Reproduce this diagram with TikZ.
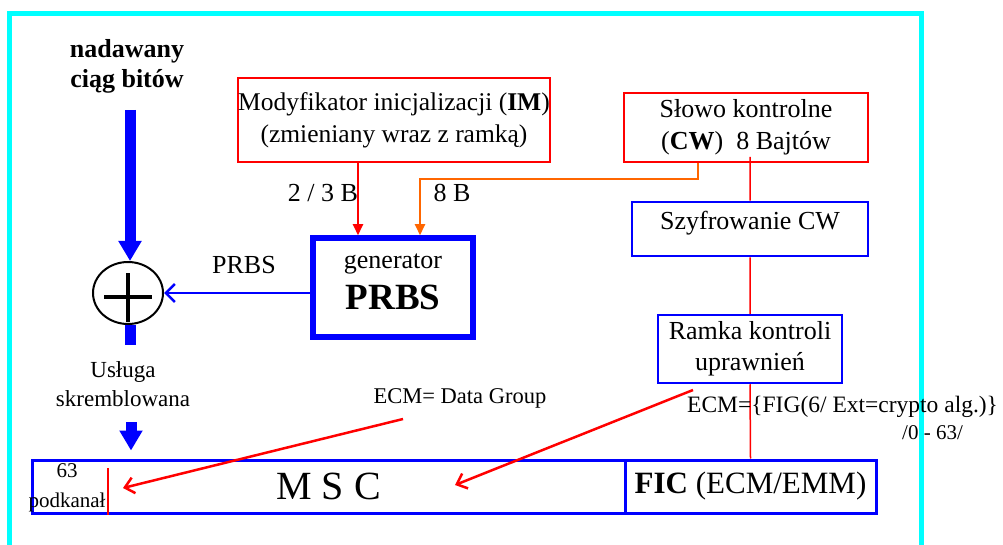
\documentclass[tikz,border=0pt]{standalone}
\usepackage{fontspec}
\setmainfont{Liberation Serif}
\usetikzlibrary{positioning, arrows.meta, shapes.geometric, calc}
\definecolor{cFrame}{HTML}{00FFFF}
\definecolor{cBlue}{HTML}{0000FF}
\definecolor{cRed}{HTML}{FF0000}
\definecolor{cOrng}{HTML}{FF6600}

\tikzset{
  txt/.style={font=\fontsize{26}{31}\selectfont, inner sep=0pt, align=center},
  redbox/.style={txt, draw=cRed, line width=2.5pt},
  bluebox/.style={txt, draw=cBlue, line width=2.5pt},
  fatarrow/.style={draw=cBlue, line width=11pt, -{Triangle[length=20pt,width=22pt]}},
  feedarrow/.style={draw=cRed, line width=2pt, -{Triangle[length=11pt,width=10pt]}},
  ecmarrow/.style={draw=cRed, line width=2.5pt, -{Straight Barb[length=9pt,width=16pt]}},
}

\begin{document}
\begin{tikzpicture}[x=1pt, y=-1pt]
  \useasboundingbox (0,0) rectangle (1003,545);
  \draw[cFrame, line width=5pt] (9.5,13.5) rectangle (921.5,580);

  % scrambler input and xor
  \node[txt, font=\fontsize{26}{30}\selectfont\bfseries] (bits) at (127,66) {nadawany\\ciąg bitów};
  \coordinate (bitsIn) at (130,110);
  \coordinate (bitsOut) at (130,345);
  \node[ellipse, draw=black, line width=2pt, minimum width=70pt, minimum height=62pt, inner sep=0pt] (xor) at (128,293) {};
  \draw[fatarrow] (bitsIn) -- (bitsIn |- xor.north);
  \draw[cBlue, line width=11pt] (bitsOut |- xor.south) -- (bitsOut);
  \draw[line width=4pt] ([xshift=-24pt,yshift=-4pt]xor.center) -- ([xshift=24pt,yshift=-4pt]xor.center);
  \draw[line width=4pt] ([yshift=20pt]xor.center) -- ([yshift=-29pt]xor.center);
  \node[txt, font=\fontsize{23}{29}\selectfont] (usl) at (123,384) {Usługa\\skremblowana};

  % PRBS generator and its inputs
  \node[bluebox, line width=5.5pt, minimum width=160pt, minimum height=99pt, text depth=12pt] (gen) at (393,287.5)
    {generator\\[10pt]{\fontsize{37}{40}\selectfont\bfseries PRBS}};
  \node[redbox, font=\fontsize{25.5}{32}\selectfont, minimum width=310pt, minimum height=84pt] (im) at (394,120)
    {Modyfikator inicjalizacji (\textbf{IM})\\(zmieniany wraz z ramką)};
  \node[redbox, font=\fontsize{26}{32}\selectfont, minimum width=244pt, minimum height=69pt] (cw) at (746,127.5)
    {Słowo kontrolne\\(\textbf{CW})\ \ 8 Bajtów};
  \draw[feedarrow] (358,0 |- im.south) -- (358,0 |- gen.north);
  \draw[feedarrow, draw=cOrng] (698,0 |- cw.south) |- (420,179) -- (420,0 |- gen.north);
  \node[txt] (imLbl) at (323,193) {2 / 3 B};
  \node[txt] (cwLbl) at (452,193) {8 B};
  \draw[cBlue, line width=2.5pt, -{Straight Barb[length=9pt,width=18pt]}] (xor.east -| gen.west) -- (xor.east);
  \node[txt] (prbsLbl) at (244,265) {PRBS};

  % control word path
  \node[bluebox, minimum width=236pt, minimum height=54pt, text depth=18pt] (szyfr) at (750,229) {Szyfrowanie CW};
  \node[bluebox, minimum width=184pt, minimum height=68pt] (ramka) at (750,349) {Ramka kontroli\\uprawnień};

  % multiplex
  \node[bluebox, line width=3pt, minimum width=593pt, minimum height=53pt, font=\fontsize{40}{44}\selectfont] (msc) at (328.5,486.5) {M S C};
  \node[bluebox, line width=3pt, minimum width=251pt, minimum height=53pt, font=\fontsize{31}{35}\selectfont] (fic) at (750.5,486.5) {\textbf{FIC} (ECM/EMM)};
  \draw[cRed, line width=1.5pt] (szyfr.north |- 0,157) -- (szyfr.north) (szyfr.south) -- (ramka.north) (ramka.south) -- (fic.north);

  \node[txt, font=\fontsize{21}{30}\selectfont] (sub) at (67,488) {63\\podkanał};
  \coordinate (subTop) at (108,468);
  \draw[cRed, line width=1.2pt] (subTop) -- (subTop |- msc.south);

  \coordinate (mscIn) at (131,422);
  \draw[fatarrow] (mscIn) -- ([yshift=8pt]mscIn |- msc.north);

  % ECM pointers
  \node[txt, font=\fontsize{22.5}{26}\selectfont] (ecmDG) at (460,398) {ECM= Data Group};
  \node[txt, font=\fontsize{23.5}{26}\selectfont, anchor=west] (ecmFig) at (687,407) {ECM=\{FIG(6/ Ext=crypto alg.)\}};
  \node[txt, font=\fontsize{21}{24}\selectfont, anchor=west] (figRng) at (902,433) {/0 - 63/};
  \coordinate (dgFrom) at (403,419);
  \coordinate (dgTip) at (123,488);
  \coordinate (figFrom) at (693,390);
  \coordinate (figTip) at (455,485);
  \draw[ecmarrow] (dgFrom) -- (dgTip);
  \draw[ecmarrow] (figFrom) -- (figTip);
\end{tikzpicture}
\end{document}
